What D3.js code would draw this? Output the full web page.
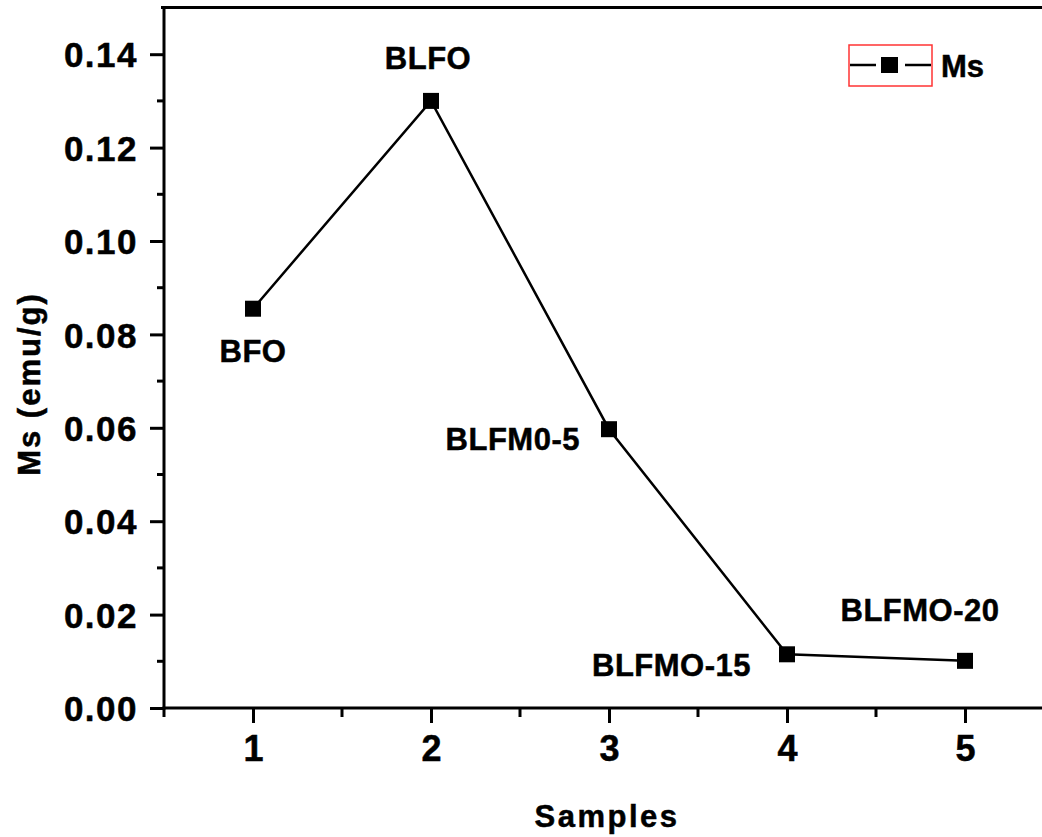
<!DOCTYPE html>
<html>
<head>
<meta charset="utf-8">
<script src="https://cdn.jsdelivr.net/npm/d3@7"></script>
<style>
  html, body { margin: 0; padding: 0; background: #fff; }
  svg { display: block; font-family: "Liberation Sans", Arial, sans-serif; font-weight: bold; }
  text { stroke: #000; stroke-width: 0.5px; }
</style>
</head>
<body>
<svg id="chart" width="1042" height="837"></svg>
<script>
// ---- data ----
const samples = [1, 2, 3, 4, 5];
const msValues = [0.0855, 0.130, 0.0597, 0.0115, 0.0101];
const sampleNames = ["BFO", "BLFO", "BLFM0-5", "BLFMO-15", "BLFMO-20"];
const yTickValues = [0.00, 0.02, 0.04, 0.06, 0.08, 0.10, 0.12, 0.14];
const xTickValues = [1, 2, 3, 4, 5];
const seriesName = "Ms";
const xTitle = "Samples";
const yTitle = "Ms (emu/g)";

// label offsets (pixel placement relative to point)
const labelPos = [
  {dx: 0, dy: 53, anchor: "middle"},
  {dx: -3, dy: -32, anchor: "middle"},
  {dx: -29, dy: 21, anchor: "end"},
  {dx: -36, dy: 22, anchor: "end"},
  {dx: -45, dy: -40, anchor: "middle"}
];

const svg = d3.select("#chart");
const x = d3.scaleLinear().domain([0.5, 5.5]).range([164, 1054]);
const y = d3.scaleLinear().domain([0, 0.15]).range([708, 7.5]);

// top frame
svg.append("line").attr("x1", 161).attr("x2", 1042).attr("y1", y(0.15)).attr("y2", y(0.15))
  .attr("stroke", "#000").attr("stroke-width", 3);

// Y axis
const yAxis = d3.axisLeft(y).tickValues(yTickValues).tickFormat(d3.format(".2f")).tickSize(14).tickPadding(12);
const gy = svg.append("g").attr("transform", `translate(${x(0.5)},0)`).call(yAxis);
gy.select(".domain").attr("stroke-width", 3).attr("d", `M0,${y(0)+1.5}V${y(0.15)}`);
gy.selectAll(".tick line").attr("stroke-width", 3);
gy.selectAll(".tick text").attr("font-size", 35).attr("font-weight", "bold")
  .attr("font-family", "Liberation Sans, Arial, sans-serif").attr("fill", "#000").attr("dy", "0.36em")
  .attr("letter-spacing", 1.5);
// y minor ticks
const yMinor = d3.range(0.01, 0.15, 0.02);
gy.selectAll(".minor").data(yMinor).enter().append("line").attr("class", "minor")
  .attr("x1", 0).attr("x2", -7).attr("y1", d => y(d)).attr("y2", d => y(d))
  .attr("stroke", "#000").attr("stroke-width", 3);

// X axis
const xAxis = d3.axisBottom(x).tickValues(xTickValues).tickFormat(d3.format("d")).tickSize(15).tickPadding(12);
const gx = svg.append("g").attr("transform", `translate(0,${y(0)})`).call(xAxis);
gx.select(".domain").attr("stroke-width", 3).attr("d", `M${x(0.5)-1.5},0H1042`);
gx.selectAll(".tick line").attr("stroke-width", 3);
gx.selectAll(".tick text").attr("font-size", 36).attr("font-weight", "bold")
  .attr("font-family", "Liberation Sans, Arial, sans-serif").attr("fill", "#000");
const xMinor = [0.5, 1.5, 2.5, 3.5, 4.5];
gx.selectAll(".minor").data(xMinor).enter().append("line").attr("class", "minor")
  .attr("x1", d => x(d)).attr("x2", d => x(d)).attr("y1", 0).attr("y2", 9)
  .attr("stroke", "#000").attr("stroke-width", 3);

// axis titles
svg.append("text").attr("x", 607).attr("y", 827).attr("text-anchor", "middle")
  .attr("font-size", 31).attr("letter-spacing", 2.5).attr("fill", "#000").text(xTitle);
svg.append("text").attr("transform", `translate(40,384) rotate(-90)`).attr("text-anchor", "middle")
  .attr("font-size", 31).attr("letter-spacing", 2).attr("fill", "#000").text(yTitle);

// line
const data = samples.map((s, i) => ({x: s, y: msValues[i], name: sampleNames[i]}));
svg.append("path").datum(data)
  .attr("d", d3.line().x(d => x(d.x)).y(d => y(d.y)))
  .attr("fill", "none").attr("stroke", "#000").attr("stroke-width", 2.5);

// markers
const ms = 16;
svg.selectAll(".pt").data(data).enter().append("rect").attr("class", "pt")
  .attr("x", d => x(d.x) - ms/2).attr("y", d => y(d.y) - ms/2)
  .attr("width", ms).attr("height", ms).attr("fill", "#000");

// point labels
svg.selectAll(".lbl").data(data).enter().append("text").attr("class", "lbl")
  .attr("x", (d, i) => x(d.x) + labelPos[i].dx)
  .attr("y", (d, i) => y(d.y) + labelPos[i].dy)
  .attr("text-anchor", (d, i) => labelPos[i].anchor)
  .attr("font-size", 31).attr("letter-spacing", 0.5).attr("fill", "#000").text(d => d.name);

// legend
const lg = svg.append("g");
lg.append("rect").attr("x", 849).attr("y", 45).attr("width", 83).attr("height", 41)
  .attr("fill", "none").attr("stroke", "#ff3333").attr("stroke-width", 1.5);
lg.append("line").attr("x1", 850).attr("x2", 876).attr("y1", 65).attr("y2", 65).attr("stroke", "#000").attr("stroke-width", 2.5);
lg.append("line").attr("x1", 905).attr("x2", 931).attr("y1", 65).attr("y2", 65).attr("stroke", "#000").attr("stroke-width", 2.5);
lg.append("rect").attr("x", 881).attr("y", 57).attr("width", 17).attr("height", 16).attr("fill", "#000");
lg.append("text").attr("x", 941).attr("y", 77).attr("font-size", 31).attr("fill", "#000").text(seriesName);
</script>
</body>
</html>
